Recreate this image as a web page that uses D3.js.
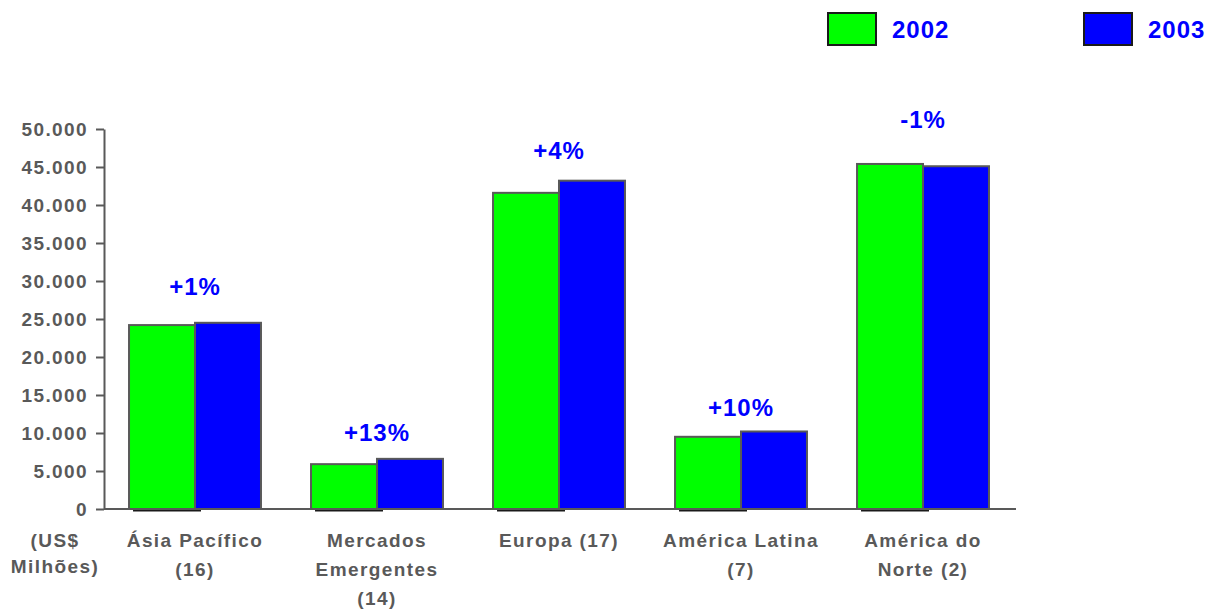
<!DOCTYPE html>
<meta charset="utf-8">
<title>Receitas por região 2002 x 2003</title>
<style type="text/css">
	body { margin: 0; background: #fff; }
	svg text { font-family: Arial, "Liberation Sans", sans-serif; font-weight: bold; }
	.tick-label, .cat-label, .unit-label { fill: #595959; font-size: 19px; letter-spacing: 1.4px; }
	.pct-label, .legend-label { fill: #0000ff; font-size: 24px; letter-spacing: 1px; }
</style>
<body>
<script src="https://d3js.org/d3.v7.min.js"></script>
<script type="text/javascript">
	// data (US$ milhões)
	const categories = [
		['Ásia Pacífico', '(16)'],
		['Mercados', 'Emergentes', '(14)'],
		['Europa (17)'],
		['América Latina', '(7)'],
		['América do', 'Norte (2)']
	];
	const years = ['2002', '2003'];
	const values2002 = [24200, 5900, 41600, 9500, 45400];
	const values2003 = [24500, 6600, 43200, 10200, 45100];
	const changes = ['+1%', '+13%', '+4%', '+10%', '-1%'];
	const changeLevels = [29200, 10100, 47200, 13300, 51200]; // where the % labels sit, in axis units
	const yTicks = [0, 5000, 10000, 15000, 20000, 25000, 30000, 35000, 40000, 45000, 50000];
	const colors = ['#00ff00', '#0000ff'];

	const width = 1215, height = 611;
	const svg = d3.select('body').append('svg')
		.attr('width', width)
		.attr('height', height);

	const x = d3.scaleBand()
		.domain(d3.range(categories.length))
		.range([104, 1014])
		.paddingInner(0.275)
		.paddingOuter(0.1375);

	const xs = d3.scaleBand()
		.domain(years)
		.range([0, x.bandwidth()]);

	const y = d3.scaleLinear()
		.domain([0, 50000])
		.range([509, 129]);

	const fmt = d3.formatLocale({ decimal: ',', thousands: '.', grouping: [3], currency: ['', ''] }).format(',');

	// y axis
	const yAxis = svg.append('g')
		.attr('transform', 'translate(104,0)')
		.call(d3.axisLeft(y).tickValues(yTicks).tickSize(8).tickSizeOuter(0).tickPadding(8).tickFormat(fmt));
	yAxis.select('.domain').attr('stroke', '#595959').attr('stroke-width', 2);
	yAxis.selectAll('.tick line').attr('stroke', '#595959').attr('stroke-width', 2);
	yAxis.selectAll('.tick text')
		.attr('class', 'tick-label')
		.attr('font-size', null)
		.attr('font-family', null);

	// bars
	const groups = svg.append('g').selectAll('g.grp')
		.data(categories.map((c, i) => ({ i: i, vals: [values2002[i], values2003[i]] })))
		.enter().append('g')
			.attr('class', 'grp')
			.attr('transform', d => `translate(${x(d.i)},0)`);

	// small dark shadow under each group
	groups.append('line')
		.attr('x1', 4)
		.attr('x2', xs.bandwidth() + 6)
		.attr('y1', y(0) + 1.5)
		.attr('y2', y(0) + 1.5)
		.attr('stroke', '#1a1a1a')
		.attr('stroke-width', 2);

	groups.selectAll('rect')
		.data(d => d.vals.map((v, k) => ({ year: years[k], v: v, k: k })))
		.enter().append('rect')
			.attr('x', d => xs(d.year))
			.attr('y', d => y(d.v))
			.attr('width', xs.bandwidth())
			.attr('height', d => y(0) - y(d.v))
			.attr('fill', d => colors[d.k])
			.attr('stroke', '#595959')
			.attr('stroke-width', 2);

	// x axis line
	svg.append('line')
		.attr('x1', 104).attr('x2', 1016)
		.attr('y1', y(0)).attr('y2', y(0))
		.attr('stroke', '#595959')
		.attr('stroke-width', 2);

	// % change labels
	groups.append('text')
		.attr('class', 'pct-label')
		.attr('x', x.bandwidth() / 2)
		.attr('y', d => y(changeLevels[d.i]))
		.attr('dy', '0.35em')
		.attr('text-anchor', 'middle')
		.text(d => changes[d.i]);

	// category labels
	groups.append('text')
		.attr('class', 'cat-label')
		.attr('text-anchor', 'middle')
		.selectAll('tspan')
		.data(d => categories[d.i])
		.enter().append('tspan')
			.attr('x', x.bandwidth() / 2)
			.attr('y', (d, j) => 547 + j * 29)
			.text(d => d);

	// unit label
	svg.append('text')
		.attr('class', 'unit-label')
		.attr('text-anchor', 'middle')
		.selectAll('tspan')
		.data(['(US$', 'Milhões)'])
		.enter().append('tspan')
			.attr('x', 55)
			.attr('y', (d, j) => 547 + j * 26)
			.text(d => d);

	// legend
	const legend = svg.append('g').selectAll('g')
		.data(years)
		.enter().append('g')
			.attr('transform', (d, k) => `translate(${828 + k * 256},13)`);
	legend.append('rect')
		.attr('width', 48)
		.attr('height', 32)
		.attr('fill', (d, k) => colors[k])
		.attr('stroke', '#1a1a1a')
		.attr('stroke-width', 2);
	legend.append('text')
		.attr('class', 'legend-label')
		.attr('x', 64)
		.attr('y', 16)
		.attr('dy', '0.36em')
		.text(d => d);
</script>
</body>
